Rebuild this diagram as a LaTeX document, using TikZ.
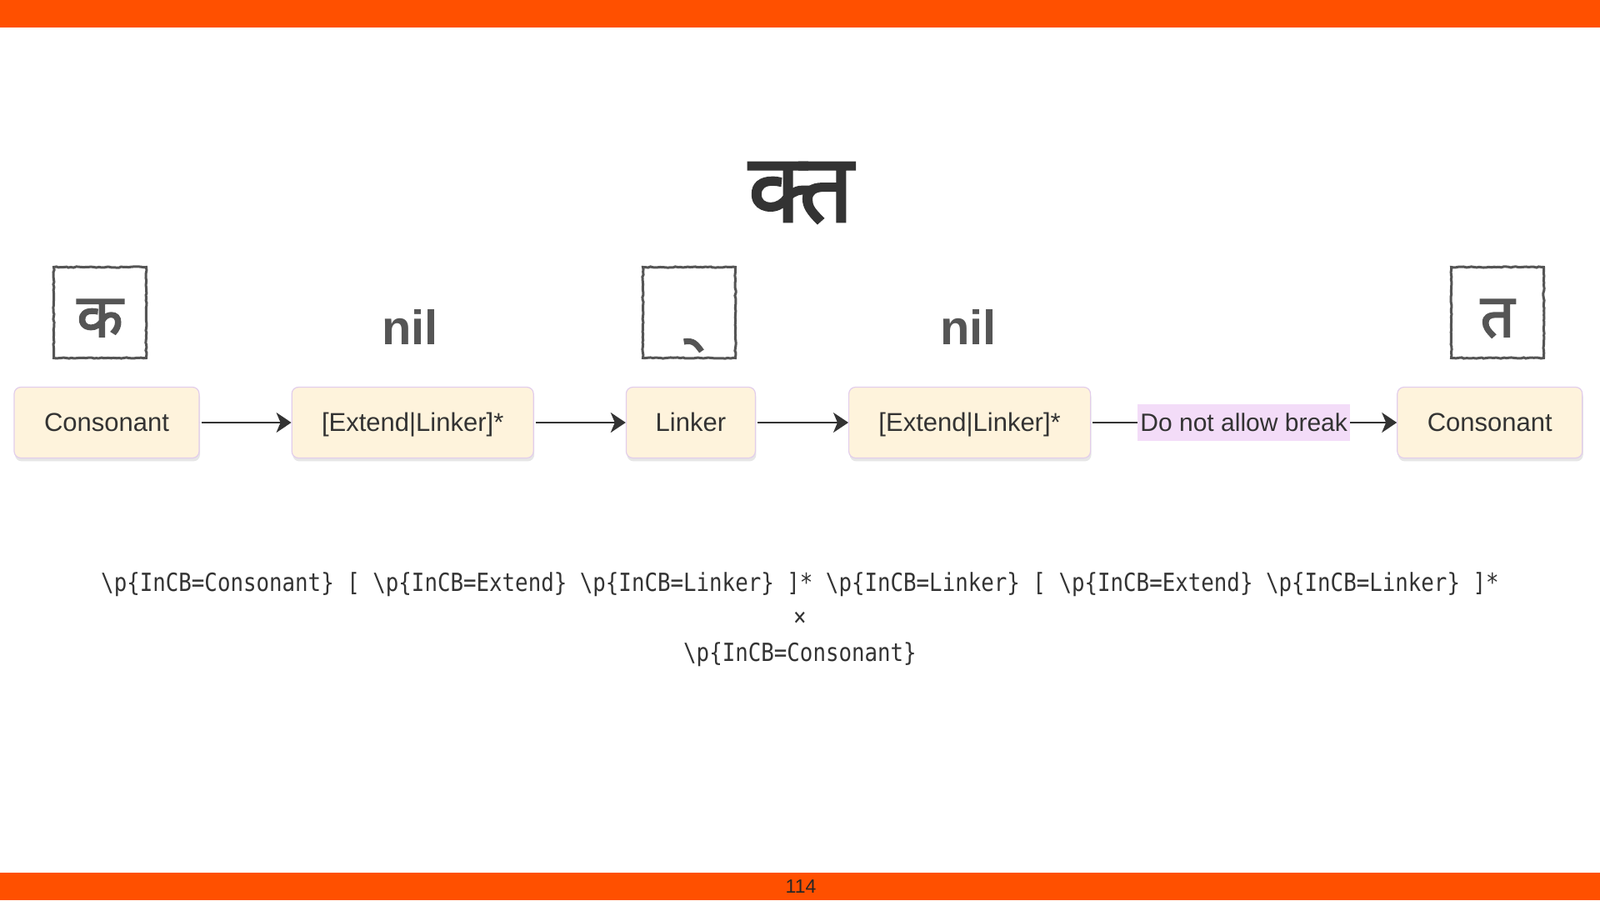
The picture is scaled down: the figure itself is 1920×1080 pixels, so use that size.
\documentclass[tikz,border=0pt]{standalone}
\usepackage{fontspec}
\setmainfont{Liberation Sans}
\newfontfamily\devfont[Script=Devanagari, FakeBold=2.5]{Noto Sans}
\newfontfamily\devraw[FakeBold=2.5]{Noto Sans}
\newfontfamily\regexfont[FakeStretch=0.86]{DejaVu Sans Mono}
\usetikzlibrary{positioning, shadows, arrows.meta, decorations.pathmorphing}

\definecolor{barorange}{HTML}{FF5000}
\definecolor{boxfill}{HTML}{FEF3DC}
\definecolor{boxline}{HTML}{E2CDEB}
\definecolor{lblfill}{HTML}{F3DCF8}
\definecolor{inkgray}{HTML}{555555}
\definecolor{inkdark}{HTML}{333333}

\newcommand{\incb}[1]{\textbackslash{}p\{InCB=#1\}}

\begin{document}
\begin{tikzpicture}[x=1pt, y=1pt,
  box/.style={draw=boxline, line width=1.2pt, rounded corners=8pt, fill=boxfill, minimum height=85pt, inner sep=0pt, text height=22pt, text depth=0pt, text=inkdark, font=\fontsize{31}{36}\selectfont, drop shadow={shadow xshift=1pt, shadow yshift=-4pt, opacity=0.2}},
  glyphbox/.style={draw=inkgray, line width=3pt, minimum width=111pt, minimum height=109pt, inner sep=0pt, text height=58pt, text depth=0pt, text=inkgray, font=\devfont\fontsize{72}{76}\selectfont, decorate, decoration={random steps, segment length=3pt, amplitude=0.6pt}},
  nilstyle/.style={text=inkgray, font=\bfseries\fontsize{58}{64}\selectfont},
  brk/.style={fill=lblfill, inner xsep=3pt, inner ysep=0pt, minimum height=44pt, text=inkdark, font=\fontsize{30}{36}\selectfont},
  arr/.style={draw=inkdark, line width=2pt, shorten <=2pt, -{Stealth[length=18pt, width=24pt, inset=5pt]}},
  regex/.style={text=inkdark, font=\regexfont\fontsize{30}{36}\selectfont}]
  \useasboundingbox (0,0) rectangle (1920,1080);
  \fill[barorange] (0,1047) rectangle (1920,1080);
  \fill[barorange] (0,0) rectangle (1920,33);

  \node[text=inkdark, font=\devfont\fontsize{114}{120}\selectfont, anchor=base] (cluster) at (961,814) {क्त};

  \node[box, minimum width=222pt] (cons1) at (128,573) {Consonant};
  \node[box, minimum width=290pt, right=110pt of cons1] (ext1) {[Extend|Linker]*};
  \node[box, minimum width=155pt, right=110pt of ext1] (link) {Linker};
  \node[box, minimum width=290pt, right=111pt of link] (ext2) {[Extend|Linker]*};
  \node[box, minimum width=222pt, right=367pt of ext2] (cons2) {Consonant};

  \node[glyphbox] (ka) at (120,705) {क};
  \node[glyphbox] (virama) at (827,705) {\hspace*{14pt}\devraw ्};
  \node[glyphbox] (ta) at (1797,705) {त};
  \node[nilstyle, anchor=base] (nil1) at (492,666) {nil};
  \node[nilstyle, anchor=base] (nil2) at (1162,666) {nil};

  \draw[arr] (cons1) -- (ext1);
  \draw[arr] (ext1) -- (link);
  \draw[arr] (link) -- (ext2);
  \draw[arr] (ext2) -- node[brk] (nobreak) {Do not allow break} (cons2);

  \node[regex, anchor=base] (rx1) at (960,370) {\incb{Consonant} [ \incb{Extend} \incb{Linker} ]* \incb{Linker} [ \incb{Extend} \incb{Linker} ]*};
  \node[regex, anchor=base] (rx2) at (960,329) {×};
  \node[regex, anchor=base] (rx3) at (960,287) {\incb{Consonant}};

  \node[text=black!85, font=\fontsize{23}{26}\selectfont] (pageno) at (961,16) {114};
\end{tikzpicture}
\end{document}
